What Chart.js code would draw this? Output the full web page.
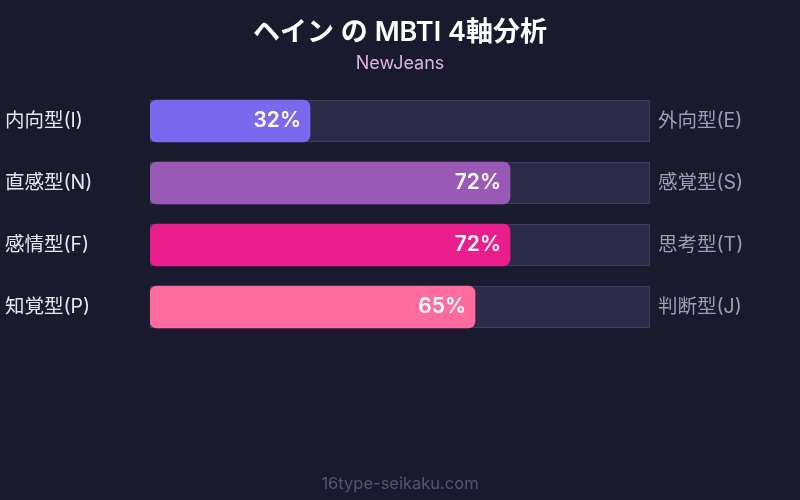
<!DOCTYPE html>
<html>
<head>
<meta charset="utf-8">
<script src="https://cdn.jsdelivr.net/npm/chart.js@4.4.1/dist/chart.umd.min.js"></script>
<style>
  html, body { margin: 0; padding: 0; background: #1a1a2e; }
  #wrap { width: 800px; height: 500px; }
</style>
</head>
<body>
<div id="wrap"><canvas id="myChart" width="800" height="500"></canvas></div>
<script>
const leftLabels = ['内向型(I)', '直感型(N)', '感情型(F)', '知覚型(P)'];
const rightLabels = ['外向型(E)', '感覚型(S)', '思考型(T)', '判断型(J)'];
const scores = [32, 72, 72, 65];
const trackValues = [100, 100, 100, 100];
const barColors = ['#7b68ee', '#9b59b6', '#e91e8c', '#ff6b9d'];

const titleText = 'ヘイン の MBTI 4軸分析';
const subtitleText = 'NewJeans';
const footerText = '16type-seikaku.com';

const FONT = "Inter, 'Noto Sans CJK JP', sans-serif";

const ctx = document.getElementById('myChart');

// titles, footer and the % labels
const textPlugin = {
  id: 'texts',
  afterDatasetsDraw(chart) {
    const c = chart.ctx;
    c.save();
    c.textAlign = 'center';
    c.textBaseline = 'middle';
    c.fillStyle = '#ffffff';
    c.font = '600 27px ' + FONT;
    c.fillText(titleText, 400, 33);
    c.fillStyle = '#dcb4e6';
    c.font = '18px ' + FONT;
    c.fillText(subtitleText, 400, 64);
    c.fillStyle = '#55556f';
    c.font = '16.5px ' + FONT;
    c.fillText(footerText, 400, 484);

    const meta = chart.getDatasetMeta(0);
    c.textAlign = 'right';
    c.fillStyle = '#ffffff';
    c.font = '600 21px ' + FONT;
    meta.data.forEach((bar, i) => {
      c.fillText(scores[i] + '%', bar.x - 9, bar.y);
    });
    c.restore();
  }
};

new Chart(ctx, {
  type: 'bar',
  data: {
    labels: leftLabels,
    datasets: [{
      data: scores,
      backgroundColor: barColors,
      borderRadius: 7,
      borderSkipped: false,
      barThickness: 42,
      grouped: false,
      order: 0
    }, {
      data: trackValues,
      backgroundColor: '#2d2b4a',
      borderColor: '#45436a',
      borderWidth: 1,
      borderSkipped: false,
      barThickness: 42,
      grouped: false,
      order: 1
    }]
  },
  options: {
    indexAxis: 'y',
    responsive: false,
    animation: false,
    layout: { padding: { left: 5, right: 0, top: 90, bottom: 162 } },
    plugins: {
      legend: { display: false },
      tooltip: { enabled: false }
    },
    scales: {
      x: { display: false, min: 0, max: 100 },
      y: {
        position: 'left',
        grid: { display: false, drawTicks: false },
        border: { display: false },
        ticks: { color: '#e6e6f0', font: { family: FONT, size: 19.5 }, crossAlign: 'far', padding: 0 },
        afterFit(scale) { scale.width = 145; }
      },
      y2: {
        type: 'category',
        position: 'right',
        labels: rightLabels,
        offset: true,
        grid: { display: false, drawTicks: false },
        border: { display: false },
        ticks: { color: '#9d9db5', font: { family: FONT, size: 19.5 }, crossAlign: 'near', padding: 8 },
        afterFit(scale) { scale.width = 150; }
      }
    }
  },
  plugins: [textPlugin]
});
</script>
</body>
</html>
